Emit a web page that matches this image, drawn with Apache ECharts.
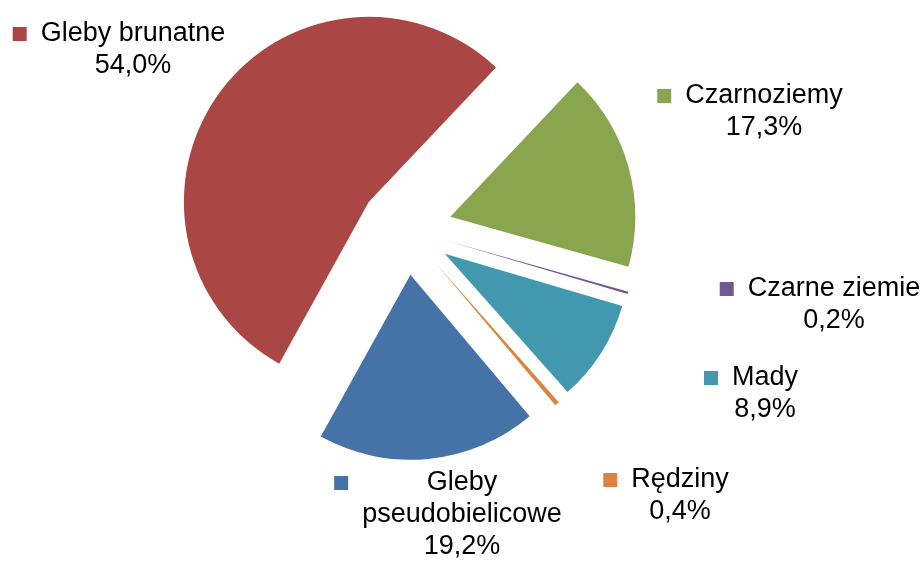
<!DOCTYPE html>
<html lang="pl">
<head>
  <meta charset="UTF-8">
  <title>Gleby</title>
  <style>
    html, body { margin: 0; padding: 0; background: #fff; }
  </style>
</head>
<body>
  <div id="chart" style="width: 923px; height: 561px;"></div>

<script src="https://cdn.jsdelivr.net/npm/echarts@6/dist/echarts.min.js"></script>

<script>
  // dane
  const names = ['Gleby brunatne', 'Czarnoziemy', 'Czarne ziemie', 'Mady', 'Rędziny', 'Gleby pseudobielicowe'];
  const values = [54.0, 17.3, 0.2, 8.9, 0.4, 19.2];
  const colors = ['#AA4643', '#89A54E', '#71588F', '#4198AF', '#DB843D', '#4572A7'];

  // where the label blocks sit (centre of block)
  const labelPos = [[119, 50], [750, 112], [820, 305], [751, 394], [666, 496], [448, 515]];

  const myChart = echarts.init(document.getElementById('chart'));

  const rich = {
    g: { width: 14, height: 14, align: 'left' },
    p: { width: 28, height: 14, align: 'left' },
    t: { fontSize: 27, lineHeight: 32, color: '#000', align: 'center' }
  };
  colors.forEach(function (c, i) {
    rich['m' + i] = { width: 14, height: 14, backgroundColor: c, align: 'left' };
  });

  const pieBase = {
    type: 'pie',
    center: [406, 229],
    radius: 185,
    startAngle: -119,
    clockwise: true,
    avoidLabelOverlap: false,
    emphasis: { disabled: true },
    labelLine: { show: false }
  };

  const option = {
    backgroundColor: '#fff',
    animation: false,
    textStyle: { fontFamily: 'Liberation Sans, Arial, sans-serif' },
    series: [
      // exploded slices
      Object.assign({}, pieBase, {
        selectedMode: 'multiple',
        selectedOffset: 46,
        itemStyle: { borderWidth: 0 },
        label: { show: false },
        data: names.map(function (n, i) {
          return { name: n, value: values[i], selected: true, itemStyle: { color: colors[i] } };
        })
      }),
      // labels (slices invisible)
      Object.assign({}, pieBase, {
        silent: true,
        itemStyle: { color: 'rgba(0,0,0,0)', borderWidth: 0 },
        label: {
          show: true,
          fontFamily: 'Liberation Sans, Arial, sans-serif',
          formatter: function (p) {
            let lines = p.name.length > 16 ? p.name.split(' ') : [p.name];
            lines.push(p.value.toFixed(1).replace('.', ',') + '%');
            return lines.map(function (s, k) {
              if (k === 0) return '{m' + p.dataIndex + '|}{g|}{t|' + s + '}';
              return '{p|}{t|' + s + '}';
            }).join('\n');
          },
          rich: rich
        },
        labelLayout: function (params) {
          const pos = labelPos[params.dataIndex];
          return { x: pos[0], y: pos[1], align: 'center', verticalAlign: 'middle' };
        },
        data: names.map(function (n, i) {
          return { name: n, value: values[i] };
        })
      })
    ]
  };

  myChart.setOption(option);
</script>
</body>
</html>
